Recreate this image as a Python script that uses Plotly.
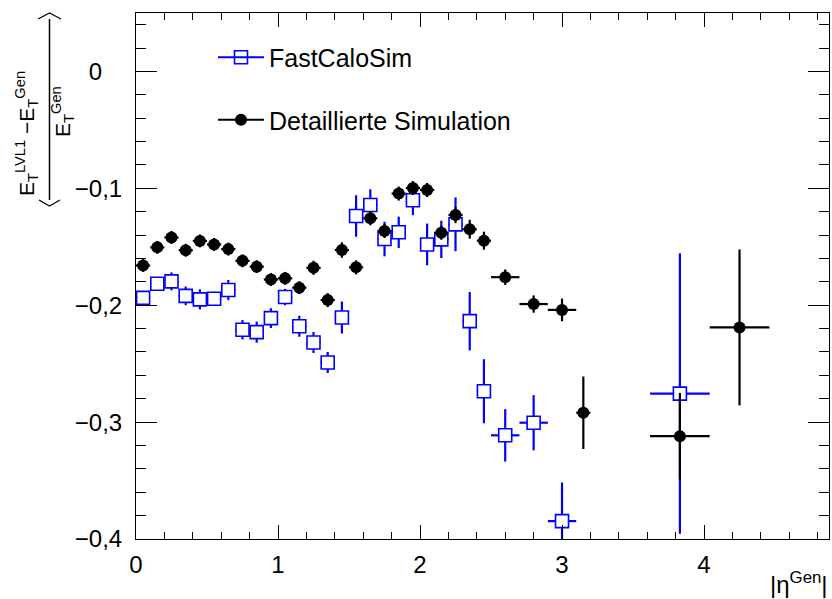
import plotly.graph_objects as go

# ---- FastCaloSim: |eta| bin centres, half widths, mean response and its error ----
eta_fcs = [0.05, 0.15, 0.25, 0.35, 0.45, 0.55, 0.65, 0.75, 0.85, 0.95,
           1.05, 1.15, 1.25, 1.35, 1.45, 1.55, 1.65, 1.75, 1.85, 1.95,
           2.05, 2.15, 2.25, 2.35, 2.45, 2.6, 2.8, 3.0, 3.83]
eta_fcs_hw = [0.05, 0.05, 0.05, 0.05, 0.05, 0.05, 0.05, 0.05, 0.05, 0.05,
              0.05, 0.05, 0.05, 0.05, 0.05, 0.05, 0.05, 0.05, 0.05, 0.05,
              0.05, 0.05, 0.05, 0.05, 0.05, 0.1, 0.1, 0.1, 0.21]
resp_fcs = [-0.1937, -0.1816, -0.1796, -0.192, -0.195, -0.1945, -0.187, -0.221, -0.223, -0.211,
            -0.193, -0.218, -0.2319, -0.249, -0.2105, -0.1237, -0.1142, -0.1434, -0.1376, -0.1102,
            -0.148, -0.1437, -0.1308, -0.2136, -0.2736, -0.3113, -0.3005, -0.3847, -0.2756]
resp_fcs_err = [0.005, 0.005, 0.0077, 0.008, 0.0086, 0.006, 0.0086, 0.0083, 0.009, 0.0085,
                0.007, 0.009, 0.009, 0.009, 0.0137, 0.0178, 0.0134, 0.0148, 0.0134, 0.0128,
                0.0178, 0.016, 0.023, 0.025, 0.0274, 0.0224, 0.0236, 0.033, 0.12]

# ---- Detailed (full) simulation ----
eta_full = [0.05, 0.15, 0.25, 0.35, 0.45, 0.55, 0.65, 0.75, 0.85, 0.95,
            1.05, 1.15, 1.25, 1.35, 1.45, 1.55, 1.65, 1.75, 1.85, 1.95,
            2.05, 2.15, 2.25, 2.35, 2.45, 2.6, 2.8, 3.0, 3.15, 3.83, 4.25]
eta_full_hw = [0.05, 0.05, 0.05, 0.05, 0.05, 0.05, 0.05, 0.05, 0.05, 0.05,
               0.05, 0.05, 0.05, 0.05, 0.05, 0.05, 0.05, 0.05, 0.05, 0.05,
               0.05, 0.05, 0.05, 0.05, 0.05, 0.1, 0.1, 0.1, 0.05, 0.21, 0.21]
resp_full = [-0.166, -0.1505, -0.142, -0.153, -0.145, -0.148, -0.152, -0.162, -0.167, -0.178,
             -0.177, -0.185, -0.168, -0.1956, -0.1528, -0.1676, -0.1256, -0.1365, -0.1045, -0.0997,
             -0.1014, -0.138, -0.1228, -0.135, -0.1448, -0.176, -0.199, -0.204, -0.292, -0.312, -0.219]
resp_full_err = [0.0055, 0.0055, 0.0055, 0.0055, 0.0055, 0.0055, 0.0055, 0.0055, 0.0055, 0.0055,
                 0.0055, 0.0055, 0.006, 0.006, 0.0066, 0.006, 0.006, 0.006, 0.006, 0.006,
                 0.006, 0.006, 0.007, 0.008, 0.0077, 0.0066, 0.0074, 0.0097, 0.031, 0.037, 0.0667]

x_range = [0, 4.88]
y_range = [-0.4, 0.05]

# y tick positions and their labels (German decimal comma)
y_tick_vals = [0, -0.1, -0.2, -0.3, -0.4]
y_tick_text = ["0\u00a0\u00a0\u00a0", "\u22120,1", "\u22120,2", "\u22120,3", "\u22120,4"]

BLUE = "#0000ff"
FONT = "Liberation Sans, Arial, Helvetica, sans-serif"

# plot-area geometry in pixels (for placing the hand-built axis title)
W, H = 832, 599
ML, MR, MT, MB = 136, 3, 13, 60
PW, PH = W - ML - MR, H - MT - MB


def px(p):
    return (p - ML) / PW


def py(p):
    return (H - MB - p) / PH


fig = go.Figure()

fig.add_trace(go.Scatter(
    x=eta_fcs, y=resp_fcs, mode="markers", name="FastCaloSim", showlegend=False,
    marker=dict(symbol="square", size=13, color="white", line=dict(color=BLUE, width=1.6)),
    error_y=dict(type="data", array=resp_fcs_err, color=BLUE, thickness=2.2, width=0),
    error_x=dict(type="data", array=eta_fcs_hw, color=BLUE, thickness=2.2, width=0),
))
fig.add_trace(go.Scatter(
    x=eta_full, y=resp_full, mode="markers", name="Detaillierte Simulation", showlegend=False,
    marker=dict(symbol="circle", size=12, color="black"),
    error_y=dict(type="data", array=resp_full_err, color="black", thickness=2.2, width=0),
    error_x=dict(type="data", array=eta_full_hw, color="black", thickness=2.2, width=0),
))

# legend entries (line + marker style)
fig.add_trace(go.Scatter(
    x=[None], y=[None], mode="lines+markers", name="FastCaloSim", legend="legend",
    line=dict(color=BLUE, width=2),
    marker=dict(symbol="square-open", size=13, color=BLUE, line=dict(color=BLUE, width=1.6)),
))
fig.add_trace(go.Scatter(
    x=[None], y=[None], mode="lines+markers", name="Detaillierte Simulation", legend="legend2",
    line=dict(color="black", width=2),
    marker=dict(symbol="circle", size=12, color="black"),
))

axis_common = dict(
    showline=True, linecolor="black", linewidth=1, mirror="ticks",
    ticks="inside", tickwidth=1, tickcolor="black",
    showgrid=False, zeroline=False,
    tickfont=dict(family=FONT, size=24, color="black"),
)
fig.update_xaxes(range=x_range, tick0=0, dtick=1, ticklen=14,
                 minor=dict(ticks="inside", ticklen=7, dtick=0.2, tickcolor="black", tickwidth=1),
                 ticklabelstandoff=4, **axis_common)
fig.update_yaxes(range=y_range, tickmode="array", tickvals=y_tick_vals, ticktext=y_tick_text,
                 ticklen=21,
                 minor=dict(ticks="inside", ticklen=10, dtick=0.02, tick0=0,
                            tickcolor="black", tickwidth=1),
                 ticklabelstandoff=8, **axis_common)

legend_common = dict(xanchor="left", yanchor="middle", bgcolor="rgba(0,0,0,0)", borderwidth=0,
                     itemwidth=46, font=dict(family=FONT, size=25, color="black"))
fig.update_layout(
    width=W, height=H,
    margin=dict(l=ML, r=MR, t=MT, b=MB, pad=0),
    paper_bgcolor="white", plot_bgcolor="white",
    separators=", ",
    font=dict(family=FONT, size=24, color="black"),
    legend=dict(x=px(213), y=py(57.5), **legend_common),
    legend2=dict(x=px(213), y=py(120), **legend_common),
)

# y-axis title: < (E_T^LVL1 - E_T^Gen) / E_T^Gen >
title_font = dict(family=FONT, size=21, color="black")
fig.add_annotation(text="E<sub>T</sub><sup>LVL1</sup> \u2212E<sub>T</sub><sup>Gen</sup>",
                   xref="paper", yref="paper", x=px(26), y=py(134), textangle=-90,
                   xanchor="center", yanchor="middle", showarrow=False, font=title_font)
fig.add_annotation(text="E<sub>T</sub><sup>Gen</sup>",
                   xref="paper", yref="paper", x=px(62), y=py(112), textangle=-90,
                   xanchor="center", yanchor="middle", showarrow=False, font=title_font)
fig.add_shape(type="line", xref="paper", yref="paper",
              x0=px(49.5), x1=px(49.5), y0=py(19), y1=py(200),
              line=dict(color="black", width=1.5))
fig.add_shape(type="path", xref="paper", yref="paper",
              path=f"M {px(38)},{py(19)} L {px(49.5)},{py(13)} L {px(61)},{py(19)}",
              line=dict(color="black", width=1.2))
fig.add_shape(type="path", xref="paper", yref="paper",
              path=f"M {px(39)},{py(200)} L {px(49.5)},{py(206)} L {px(60)},{py(200)}",
              line=dict(color="black", width=1.2))

# x-axis title
fig.add_annotation(text="|\u03b7<sup>Gen</sup>|", xref="paper", yref="paper",
                   x=1, y=py(600), xanchor="right", yanchor="bottom", xshift=1,
                   showarrow=False, font=dict(family=FONT, size=24, color="black"))

fig.write_html("out.html")
